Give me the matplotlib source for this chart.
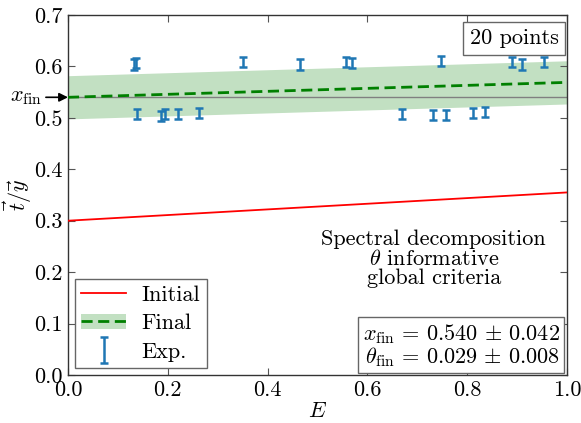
import numpy as np
import matplotlib
matplotlib.use('Agg')
import matplotlib.pyplot as plt
from matplotlib.patches import Patch
from matplotlib.lines import Line2D
from matplotlib.legend_handler import HandlerErrorbar

# --- Computer Modern look without LaTeX ---
plt.rcParams['font.family'] = 'serif'
plt.rcParams['font.serif'] = ['cmr10']
plt.rcParams['mathtext.fontset'] = 'cm'
plt.rcParams['axes.formatter.use_mathtext'] = True
plt.rcParams['axes.unicode_minus'] = False

FONT_SIZE = 16

# --- data ---
exp_E = [0.132, 0.137, 0.138, 0.186, 0.194, 0.220, 0.263, 0.351, 0.464, 0.557,
         0.569, 0.669, 0.731, 0.747, 0.758, 0.811, 0.836, 0.889, 0.910, 0.954]
exp_y = [0.604, 0.606, 0.508, 0.504, 0.507, 0.507, 0.509, 0.609, 0.604, 0.609,
         0.607, 0.507, 0.505, 0.610, 0.505, 0.509, 0.511, 0.609, 0.604, 0.609]
exp_err = [0.010] * 20

E_line = [0.0, 1.0]
initial_y = [0.300, 0.355]
x_fin, x_fin_err = 0.540, 0.042
theta_fin, theta_fin_err = 0.029, 0.008

final_y = [x_fin + theta_fin * e for e in E_line]
final_lo = [v - x_fin_err for v in final_y]
final_hi = [v + x_fin_err for v in final_y]

fig = plt.figure(figsize=(5.81, 4.23), dpi=100)
ax = fig.add_axes([0.117, 0.1135, 0.859, 0.851])

ax.axhline(x_fin, color='gray', lw=1.0, zorder=1)
ax.plot(E_line, initial_y, color='red', lw=1.3, zorder=3)
ax.fill_between(E_line, final_lo, final_hi, color='#c2e0c2', lw=0, zorder=0)
ax.plot(E_line, final_y, color='green', lw=2.0, ls=(0, (4, 2)), zorder=3)
h_exp = ax.errorbar(exp_E, exp_y, yerr=exp_err, fmt='none', ecolor='#1f77b4',
                    elinewidth=1.8, capsize=2.8, capthick=1.8, zorder=4)

ax.set_xlim(0, 1)
ax.set_ylim(0, 0.7)
ax.set_xticks(np.arange(0, 1.01, 0.2))
ax.set_yticks(np.arange(0, 0.71, 0.1))
ax.set_xticklabels([f'{v:.1f}' for v in np.arange(0, 1.01, 0.2)])
ax.set_yticklabels([f'{v:.1f}' for v in np.arange(0, 0.71, 0.1)])
ax.tick_params(direction='in', top=True, right=True, labelsize=FONT_SIZE,
               length=5, color='#555555', pad=4)
for s in ax.spines.values():
    s.set_color('#333333')
    s.set_linewidth(1.0)

ax.set_xlabel(r'$E$', fontsize=FONT_SIZE, labelpad=1)
ax.set_ylabel(r'$\vec{t}/\vec{y}$', fontsize=FONT_SIZE, labelpad=0)

# x_fin arrow on the left
ax.annotate(r'$x_{\rm fin}$', xy=(0, x_fin), xycoords=('axes fraction', 'data'),
            xytext=(-42, 0), textcoords='offset points', fontsize=FONT_SIZE,
            va='center', ha='left', annotation_clip=False,
            arrowprops=dict(arrowstyle='-|>', color='black', lw=1.2,
                            shrinkA=1, shrinkB=0, mutation_scale=13))

ax.text(0.983, 0.963, '20 points', transform=ax.transAxes, ha='right', va='top',
        fontsize=FONT_SIZE,
        bbox=dict(boxstyle='square,pad=0.3', fc='white', ec='#666666'))

ax.text(0.733, 0.405, 'Spectral decomposition\n' + r'$\theta$ informative' + '\nglobal criteria',
        transform=ax.transAxes, ha='center', va='top', fontsize=FONT_SIZE,
        linespacing=1.0)

ax.text(0.985, 0.018,
        r'$x_{\rm fin}\,=\,0.540\,\pm\,0.042$' + '\n' + r'$\theta_{\rm fin}\,=\,0.029\,\pm\,0.008$',
        transform=ax.transAxes, ha='right', va='bottom', fontsize=FONT_SIZE,
        linespacing=0.95,
        bbox=dict(boxstyle='square,pad=0.2', fc='white', ec='#666666'))

h_init = Line2D([], [], color='red', lw=1.3)
h_final = (Patch(facecolor='#c2e0c2', edgecolor='none'),
           Line2D([], [], color='green', lw=2.0, ls=(0, (4, 2))))
leg = ax.legend([h_init, h_final, h_exp], ['Initial', 'Final', 'Exp.'],
                loc='lower left', fontsize=FONT_SIZE, fancybox=False,
                framealpha=1, edgecolor='#666666', borderaxespad=0.3,
                handlelength=2.0, labelspacing=0.4, borderpad=0.3,
                handletextpad=0.7,
                handler_map={type(h_exp): HandlerErrorbar(xerr_size=0.6)})

fig.savefig('out.png', dpi=100)
